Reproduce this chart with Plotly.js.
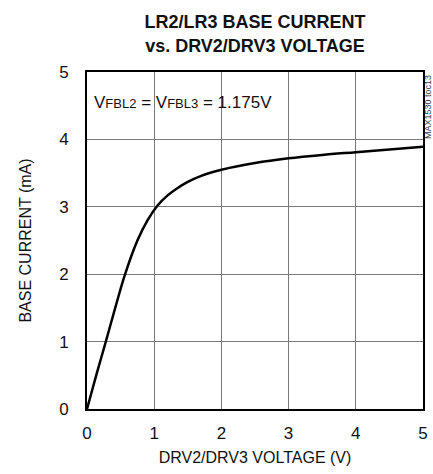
<!DOCTYPE html>
<html>
<head>
<meta charset="utf-8">
<script src="https://cdn.plot.ly/plotly-3.0.1.min.js"></script>
<style>html,body{margin:0;padding:0;background:#fff;}#chart{width:433px;height:474px;}</style>
</head>
<body>
<div id="chart"></div>
<script>
// Data
const drvVoltage = [0, 0.14, 0.28, 0.42, 0.56, 0.75, 0.9, 1.05, 1.2, 1.35, 1.5, 1.7, 2.0, 2.5, 3.0, 3.5, 4.0, 4.5, 5.0];
const baseCurrent = [0, 0.51, 1.0, 1.5, 1.98, 2.5, 2.8, 3.02, 3.17, 3.28, 3.37, 3.46, 3.55, 3.65, 3.72, 3.77, 3.81, 3.85, 3.89];
const xTicks = [0, 1, 2, 3, 4, 5];
const yTicks = [0, 1, 2, 3, 4, 5];
const chartTitle = "LR2/LR3 BASE CURRENT<br>vs. DRV2/DRV3 VOLTAGE";
const xTitle = "DRV2/DRV3 VOLTAGE (V)";
const yTitle = "BASE CURRENT (mA)";
const noteText = 'V<span style="font-size:13px">FBL2</span> = V<span style="font-size:13px">FBL3</span> = 1.175V';
const sideText = "MAX1530 toc13";

const FONT = '"Liberation Sans Narrow", "Arial Narrow", "Liberation Sans", Arial, sans-serif';

const trace = {
  x: drvVoltage,
  y: baseCurrent,
  type: 'scatter',
  mode: 'lines',
  line: {color: '#000', width: 2.5, shape: 'spline', smoothing: 1},
  hoverinfo: 'skip'
};

const axisCommon = {
  showline: true, mirror: true, linecolor: '#000', linewidth: 2,
  showgrid: true, gridcolor: '#7a7a7a', gridwidth: 1,
  zeroline: false,
  ticks: 'outside', tickcolor: 'rgba(0,0,0,0)',
  tickfont: {family: FONT, size: 17, color: '#111'},
  fixedrange: true
};

const layout = {
  width: 433, height: 474,
  margin: {l: 87, r: 10, t: 72, b: 65},
  paper_bgcolor: '#fff', plot_bgcolor: '#fff',
  showlegend: false,
  title: {
    text: '<b>' + chartTitle + '</b>',
    font: {family: FONT, size: 18, color: '#111'},
    xref: 'paper', x: 0.5, xanchor: 'center',
    yref: 'container', y: 0.94, yanchor: 'middle'
  },
  xaxis: Object.assign({}, axisCommon, {
    range: [0, 5], tickvals: xTicks, ticklen: 8,
    title: {text: xTitle, font: {family: FONT, size: 16, color: '#111'}, standoff: 9}
  }),
  yaxis: Object.assign({}, axisCommon, {
    range: [0, 5], tickvals: yTicks, ticklen: 13,
    title: {text: yTitle, font: {family: FONT, size: 16, color: '#111'}, standoff: 24}
  }),
  annotations: [
    {
      text: noteText, xref: 'x', yref: 'y', x: 0.08, y: 4.55,
      xanchor: 'left', yanchor: 'middle', showarrow: false,
      font: {family: FONT, size: 17, color: '#111'}
    },
    {
      text: sideText, xref: 'paper', yref: 'paper', x: 1.0, y: 1.0,
      xanchor: 'center', yanchor: 'top', xshift: 5, yshift: -1, showarrow: false, textangle: -90,
      font: {family: FONT, size: 9, color: '#333'}
    }
  ]
};

Plotly.newPlot('chart', [trace], layout, {staticPlot: true, displayModeBar: false});
</script>
</body>
</html>
